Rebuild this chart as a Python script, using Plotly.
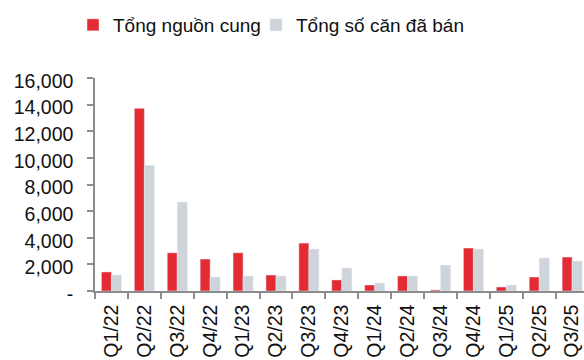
import plotly.graph_objects as go

quarters = ["Q1/22", "Q2/22", "Q3/22", "Q4/22", "Q1/23", "Q2/23", "Q3/23", "Q4/23",
            "Q1/24", "Q2/24", "Q3/24", "Q4/24", "Q1/25", "Q2/25", "Q3/25"]
supply = [1430, 13720, 2870, 2400, 2870, 1200, 3600, 830,
          450, 1130, 80, 3230, 300, 1050, 2550]
sold = [1200, 9450, 6680, 1050, 1130, 1130, 3150, 1730,
        600, 1130, 1950, 3150, 450, 2480, 2250]

ytick_vals = [0, 2000, 4000, 6000, 8000, 10000, 12000, 14000, 16000]
ytick_text = ["-", "2,000", "4,000", "6,000", "8,000", "10,000", "12,000", "14,000", "16,000"]

RED = "#E42A33"
GREY = "#CFD3DA"
AXIS = "#8C8C8C"
FONT = "Liberation Sans, Arial, sans-serif"

L, R, T, B = 95, 0, 78, 69
W, H = 584, 360
PW, PH = W - L - R, H - T - B

fig = go.Figure()
fig.add_trace(go.Bar(name="Tổng nguồn cung", x=quarters, y=supply,
                     marker_color=RED, legend="legend"))
fig.add_trace(go.Bar(name="Tổng số căn đã bán", x=quarters, y=sold,
                     marker_color=GREY, legend="legend2"))

legend_common = dict(orientation="h", xanchor="left", yanchor="middle",
                     y=(H - 25 - B) / PH, font=dict(size=19),
                     bgcolor="rgba(0,0,0,0)")

fig.update_layout(
    width=W, height=H,
    margin=dict(l=L, r=R, t=T, b=B),
    paper_bgcolor="white", plot_bgcolor="white",
    barmode="group", bargap=0.39, bargroupgap=0,
    font=dict(family=FONT, color="#111111", size=19),
    legend=dict(x=(73 - L) / PW, **legend_common),
    legend2=dict(x=(256 - L) / PW, **legend_common),
    showlegend=True,
)

fig.update_xaxes(
    type="category", range=[-0.5, 14.36], automargin=False,
    showline=True, linecolor=AXIS, linewidth=1.5,
    ticks="outside", tickson="boundaries", ticklen=6, tickcolor=AXIS, tickwidth=1.5,
    tickangle=-90, tickfont=dict(size=19.5), showgrid=False,
    ticklabelstandoff=4,
)
fig.update_yaxes(
    range=[0, 16000], tickvals=ytick_vals, ticktext=ytick_text, automargin=False,
    showline=True, linecolor=AXIS, linewidth=1.5,
    ticks="outside", ticklen=6, tickcolor=AXIS, tickwidth=1.5,
    tickfont=dict(size=19.5), showgrid=False, zeroline=False,
    ticklabelstandoff=10, ticklabelshift=3,
)

fig.write_html("out.html")
